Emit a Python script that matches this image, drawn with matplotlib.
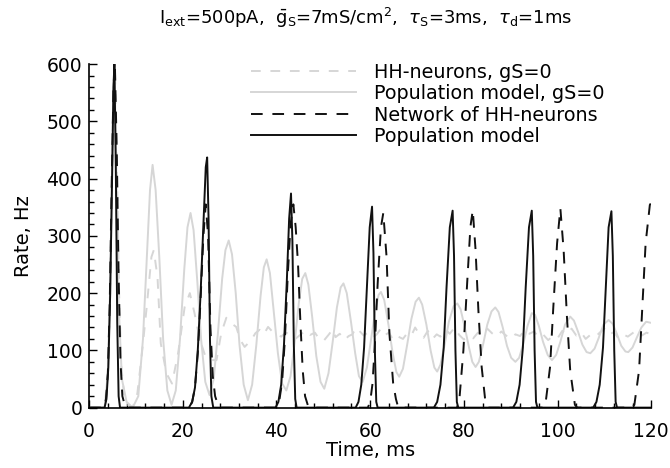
import matplotlib
matplotlib.use("Agg")
import matplotlib.pyplot as plt
from matplotlib.ticker import MultipleLocator

plt.rcParams['font.family'] = ['DejaVu Sans']
plt.rcParams['lines.scale_dashes'] = False

# (time ms, rate Hz)
hh_gs0 = [
    (0, 0), (3.2, 0), (3.6, 15), (4.0, 60), (4.4, 180), (4.8, 380), (5.2, 560), (5.5, 600),
    (5.9, 430), (6.4, 200), (6.9, 70), (7.5, 20), (8.3, 5), (9.3, 0), (10.3, 25), (11.2, 89),
    (12.3, 176), (13.3, 263), (13.8, 275), (14.6, 228), (15.3, 112), (16.5, 60), (17.7, 42),
    (19.0, 95), (20.4, 176), (21.5, 200), (22.5, 165), (23.6, 120), (24.8, 90), (25.8, 83),
    (27.2, 83), (28.2, 130), (29.3, 157), (30.4, 147), (31.4, 141), (32.3, 118), (33.2, 106),
    (34.6, 118), (35.5, 130), (36.4, 136), (37.3, 128), (38.2, 141), (39.1, 133), (40.0, 129),
    (41.0, 124), (42.0, 131), (43.0, 127), (44.0, 120), (45.2, 128), (46.3, 135), (47.2, 127),
    (48.2, 131), (49.1, 120), (50.0, 116), (51.2, 128), (52.0, 137), (52.6, 123), (53.5, 129),
    (54.5, 118), (55.4, 125), (56.2, 128), (57.0, 140), (57.6, 135), (58.6, 126), (59.5, 131),
    (60.5, 122), (61.4, 128), (62.3, 138), (63.2, 127), (64.0, 131), (65.0, 117), (66.0, 124),
    (67.0, 120), (67.9, 130), (68.8, 126), (69.6, 140), (70.5, 128), (71.4, 122), (72.3, 134),
    (73.3, 120), (74.2, 128), (75.0, 124), (76.0, 137), (77.0, 129), (78.0, 140), (79.0, 127),
    (80.0, 119), (81.0, 126), (82.0, 121), (83.0, 131), (84.0, 126), (85.0, 138), (86.0, 130),
    (87.0, 124), (88.0, 133), (89.0, 126), (90.0, 120), (91.0, 128), (92.0, 125), (93.0, 136),
    (94.0, 129), (95.0, 133), (96.0, 122), (97.0, 127), (98.0, 118), (99.0, 125), (100.0, 121),
    (101.0, 134), (102.0, 128), (103.0, 138), (104.0, 126), (105.0, 132), (106.0, 120),
    (107.0, 127), (108.0, 123), (109.0, 131), (110.0, 138), (111.0, 127), (112.0, 132),
    (113.0, 121), (114.0, 128), (115.0, 124), (116.0, 130), (117.0, 136), (118.0, 126),
    (119.0, 131), (120.0, 128),
]

pop_gs0 = [
    (0, 0), (3.3, 0), (4.0, 60), (4.5, 200), (5.0, 450), (5.4, 600), (5.8, 420), (6.3, 180),
    (7.0, 50), (8.0, 10), (9.3, 0), (10.5, 20), (11.5, 120), (12.3, 260), (13.0, 380),
    (13.55, 424), (14.2, 380), (15.0, 260), (15.8, 120), (16.7, 30), (17.6, 5), (18.5, 30),
    (19.4, 120), (20.3, 240), (21.0, 315), (21.65, 340), (22.3, 310), (23.1, 220), (23.9, 120),
    (24.8, 45), (25.7, 22), (26.6, 50), (27.5, 130), (28.4, 225), (29.1, 275), (29.8, 292),
    (30.5, 268), (31.3, 200), (32.1, 110), (33.0, 40), (33.9, 13), (34.8, 40), (35.7, 110),
    (36.6, 195), (37.3, 245), (37.9, 259), (38.6, 235), (39.4, 170), (40.3, 95), (41.2, 42),
    (42.1, 30), (43.0, 55), (43.9, 115), (44.8, 185), (45.5, 225), (46.15, 235), (46.8, 215),
    (47.6, 160), (48.5, 90), (49.4, 45), (50.2, 33), (51.1, 60), (52.0, 115), (52.9, 175),
    (53.7, 210), (54.3, 217), (55.0, 200), (55.9, 150), (56.8, 95), (57.6, 55), (58.4, 45),
    (59.3, 70), (60.2, 120), (61.1, 170), (61.8, 197), (62.3, 202), (63.0, 188), (63.9, 145),
    (64.8, 95), (65.6, 62), (66.2, 54), (67.0, 68), (67.9, 110), (68.8, 155), (69.7, 185),
    (70.4, 192), (71.1, 180), (72.0, 145), (72.9, 100), (73.7, 70), (74.3, 63), (75.0, 75),
    (75.9, 110), (76.8, 150), (77.8, 177), (78.6, 182), (79.3, 172), (80.2, 140), (81.1, 105),
    (81.8, 80), (82.5, 71), (83.2, 80), (84.1, 110), (85.0, 145), (85.9, 168), (86.7, 175),
    (87.4, 167), (88.3, 140), (89.2, 108), (90.1, 87), (91.0, 80), (91.8, 87), (92.7, 112),
    (93.6, 143), (94.5, 165), (95.2, 162), (96.0, 143), (96.9, 115), (97.9, 92), (98.8, 83),
    (99.7, 92), (100.6, 115), (101.6, 145), (102.7, 159), (103.5, 152), (104.4, 132),
    (105.3, 110), (106.2, 97), (107.0, 95), (107.9, 103), (108.8, 122), (109.8, 145),
    (110.9, 153), (111.8, 146), (112.7, 128), (113.6, 108), (114.5, 98), (115.1, 97),
    (116.0, 105), (116.9, 122), (117.9, 140), (118.9, 150), (120.0, 148),
]

network = [
    (0, 0), (3.2, 0), (3.6, 15), (4.0, 60), (4.4, 180), (4.8, 380), (5.2, 560), (5.5, 600),
    (5.9, 450), (6.3, 230), (6.7, 80), (7.1, 20), (7.6, 5), (8.0, 0),
    (21.4, 0), (22.0, 10), (22.6, 35), (23.2, 95), (23.8, 190), (24.4, 300), (24.9, 355),
    (25.4, 300), (25.9, 140), (26.4, 55), (26.9, 20), (27.5, 5), (28.0, 0),
    (39.9, 0), (40.6, 12), (41.2, 45), (41.8, 120), (42.4, 230), (43.0, 320), (43.6, 355),
    (44.1, 315), (44.6, 250), (45.1, 150), (45.6, 65), (46.1, 20), (46.7, 4), (47.2, 0),
    (59.5, 0), (60.0, 10), (60.5, 42), (61.0, 110), (61.6, 217), (62.3, 315), (62.8, 340),
    (63.5, 263), (64.1, 130), (64.9, 43), (65.5, 15), (66.0, 0),
    (78.5, 0), (79.0, 10), (79.9, 100), (80.7, 217), (81.4, 316), (81.9, 345), (82.5, 275),
    (83.1, 170), (83.8, 71), (84.6, 10), (85.2, 0),
    (97.0, 0), (97.4, 5), (98.4, 71), (99.1, 176), (99.9, 287), (100.6, 348), (101.3, 275),
    (102.0, 159), (102.7, 65), (103.7, 5), (104.2, 0),
    (116.0, 0), (116.4, 5), (117.4, 65), (118.1, 176), (118.8, 287), (119.7, 354), (120.0, 358),
]

pop_model = [
    (0, 0), (3.3, 0), (3.7, 15), (4.1, 70), (4.5, 200), (4.9, 400), (5.2, 560), (5.4, 600),
    (5.7, 420), (6.0, 150), (6.3, 20), (6.6, 0),
    (21.3, 0), (22.0, 10), (22.6, 35), (23.2, 100), (23.8, 200), (24.4, 320), (24.9, 420),
    (25.2, 437), (25.5, 330), (25.8, 120), (26.1, 20), (26.5, 0),
    (39.8, 0), (40.4, 10), (41.0, 40), (41.6, 110), (42.2, 220), (42.7, 330), (43.1, 374),
    (43.4, 290), (43.7, 110), (44.0, 15), (44.3, 0),
    (56.9, 0), (57.5, 10), (58.1, 40), (58.7, 105), (59.3, 210), (59.9, 315), (60.4, 351),
    (60.7, 270), (61.0, 100), (61.3, 10), (61.6, 0),
    (73.6, 0), (74.3, 10), (75.0, 40), (75.7, 105), (76.3, 210), (77.0, 315), (77.6, 344),
    (77.9, 265), (78.2, 100), (78.5, 10), (78.8, 0),
    (90.5, 0), (91.2, 10), (91.9, 40), (92.6, 105), (93.2, 210), (93.9, 315), (94.5, 344),
    (94.8, 265), (95.1, 100), (95.4, 10), (95.7, 0),
    (107.6, 0), (108.3, 10), (109.0, 40), (109.7, 105), (110.3, 210), (110.9, 315),
    (111.5, 343), (111.8, 265), (112.1, 100), (112.4, 10), (112.7, 0), (120.0, 0),
]

light = '#d6d6d6'

fig = plt.figure(figsize=(6.7, 4.68), dpi=100)
ax = fig.add_axes([0.133, 0.129, 0.839, 0.734])

def xy(pts):
    return [p[0] for p in pts], [p[1] for p in pts]

ax.plot(*xy(hh_gs0), color=light, lw=1.4, linestyle=(0, (7, 7)), label='HH-neurons, gS=0')
ax.plot(*xy(pop_gs0), color=light, lw=1.4, label='Population model, gS=0')
ax.plot(*xy(network), color='#111111', lw=1.4, linestyle=(0, (8.4, 7)), label='Network of HH-neurons')
ax.plot(*xy(pop_model), color='#111111', lw=1.4, label='Population model')

ax.set_xlim(0, 120)
ax.set_ylim(0, 600)
ax.xaxis.set_major_locator(MultipleLocator(20))
ax.xaxis.set_minor_locator(MultipleLocator(4))
ax.yaxis.set_major_locator(MultipleLocator(100))
ax.yaxis.set_minor_locator(MultipleLocator(20))
ax.tick_params(which='both', direction='in', width=1, labelsize=13.5)
ax.tick_params(which='major', length=6)
ax.tick_params(which='minor', length=3.5)
ax.tick_params(axis='x', pad=10)
ax.tick_params(axis='y', pad=5)
for s in ('top', 'right'):
    ax.spines[s].set_visible(False)
for s in ('left', 'bottom'):
    ax.spines[s].set_linewidth(1.2)

ax.set_xlabel('Time, ms', fontsize=14, labelpad=0)
ax.set_ylabel('Rate, Hz', fontsize=14, labelpad=10)

fig.text(0.545, 0.962,
         r'I$_{\mathrm{ext}}$=500pA,  $\bar{\mathrm{g}}_{\mathrm{S}}$=7mS/cm$^2$,  '
         r'$\tau_{\mathrm{S}}$=3ms,  $\tau_{\mathrm{d}}$=1ms',
         ha='center', va='center', fontsize=13)

fig.legend(loc='upper left', bbox_to_anchor=(0.374, 0.866), frameon=False, fontsize=13.8,
           handlelength=5.5, handletextpad=0.95, labelspacing=0.13, borderpad=0, borderaxespad=0)

fig.savefig('out.png', dpi=100)
